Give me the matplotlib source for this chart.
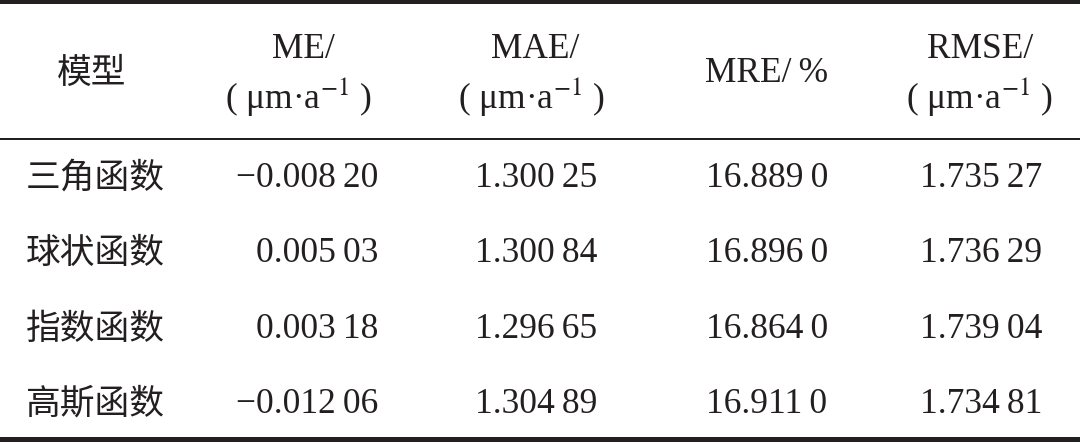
import matplotlib
matplotlib.use("Agg")
import matplotlib.pyplot as plt

plt.rcParams['mathtext.fontset'] = 'stix'

# Datos de la tabla
models = ['三角函数', '球状函数', '指数函数', '高斯函数']
me = [-0.00820, 0.00503, 0.00318, -0.01206]
mae = [1.30025, 1.30084, 1.29665, 1.30489]
mre = [16.8890, 16.8960, 16.8640, 16.9110]
rmse = [1.73527, 1.73629, 1.73904, 1.73481]
headers = ['模型', 'ME/', 'MAE/', 'MRE/\u2009%', 'RMSE/']
unit = '( μm·a$^{-1}$ )'

SERIF = ['Liberation Serif', 'DejaVu Serif']
CJK = ['Noto Sans CJK SC', 'DejaVu Sans']
INK = '#231f20'


def fmt(v, nd):
    # agrupar decimales de 3 en 3 con espacio fino
    s = f'{abs(v):.{nd}f}'
    ent, dec = s.split('.')
    grupos = [dec[i:i + 3] for i in range(0, len(dec), 3)]
    txt = ent + '.' + '\u2009'.join(grupos)
    return ('\u2212' if v < 0 else '') + txt


W, H = 1080, 442
fig = plt.figure(figsize=(W / 100, H / 100), dpi=100)
ax = fig.add_axes([0, 0, 1, 1])
ax.set_xlim(0, W)
ax.set_ylim(H, 0)
ax.axis('off')

# Reglas horizontales
ax.axhline(2, color=INK, lw=4 * 0.72)
ax.axhline(139, color=INK, lw=2 * 0.72)
ax.axhline(439, color=INK, lw=5 * 0.72)

fs = 25.5
fc = 25
# Encabezado
ax.text(92, 83, headers[0], ha='center', va='baseline', fontsize=fc, family=CJK,
        fontweight='light', color=INK)
ax.text(303, 58, headers[1], ha='center', va='baseline', fontsize=fs, family=SERIF, color=INK)
ax.text(299, 109, unit, ha='center', va='baseline', fontsize=fs, family=SERIF, color=INK)
ax.text(535, 58, headers[2], ha='center', va='baseline', fontsize=fs, family=SERIF, color=INK)
ax.text(532, 109, unit, ha='center', va='baseline', fontsize=fs, family=SERIF, color=INK)
ax.text(767, 82, headers[3], ha='center', va='baseline', fontsize=fs, family=SERIF, color=INK)
ax.text(980, 58, headers[4], ha='center', va='baseline', fontsize=fs, family=SERIF, color=INK)
ax.text(980, 109, unit, ha='center', va='baseline', fontsize=fs, family=SERIF, color=INK)

# Filas
baselines = [187, 262, 338, 413]
for i, y in enumerate(baselines):
    ax.text(95, y + 1, models[i], ha='center', va='baseline', fontsize=fc, family=CJK,
            fontweight='light', color=INK)
    ax.text(378, y, fmt(me[i], 5), ha='right', va='baseline', fontsize=fs, family=SERIF, color=INK)
    ax.text(536, y, fmt(mae[i], 5), ha='center', va='baseline', fontsize=fs, family=SERIF, color=INK)
    ax.text(767, y, fmt(mre[i], 4), ha='center', va='baseline', fontsize=fs, family=SERIF, color=INK)
    ax.text(981, y, fmt(rmse[i], 5), ha='center', va='baseline', fontsize=fs, family=SERIF, color=INK)

fig.savefig('out.png', dpi=100, facecolor='white')
plt.close()
